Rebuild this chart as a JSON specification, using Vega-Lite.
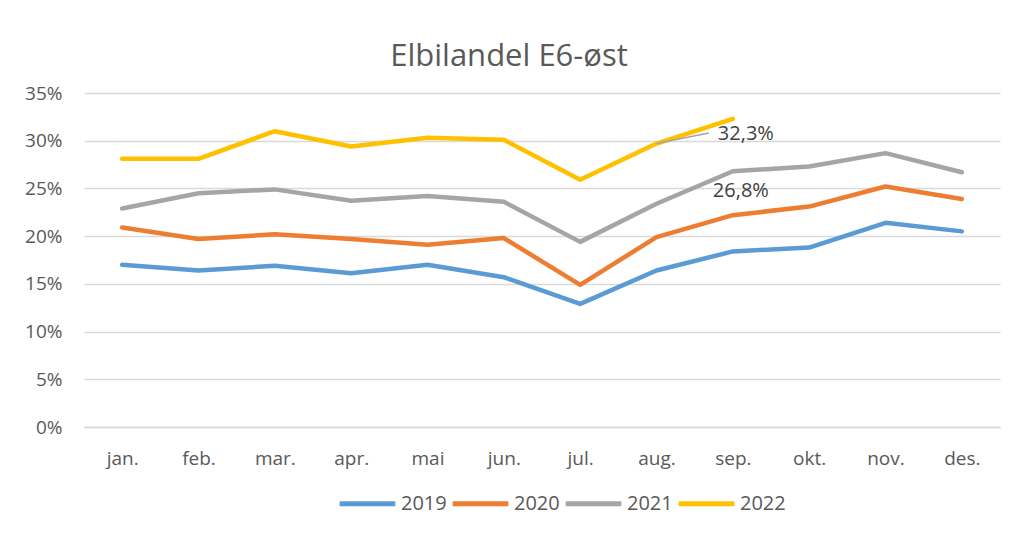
{
  "$schema": "https://vega.github.io/schema/vega-lite/v6.json",
  "width": 916,
  "height": 334,
  "autosize": {"type": "none"},
  "padding": {"left": 84, "top": 93, "right": 14, "bottom": 106},
  "background": "white",
  "title": {"text": "Elbilandel E6-øst", "fontSize": 31, "font": "Open Sans", "fontWeight": "normal", "color": "#595959", "dx": -33, "offset": 11},
  "config": {
    "view": {"stroke": null},
    "font": "Open Sans"
  },
  "datasets": {
    "series": [
      {"month": "jan.", "year": "2019", "value": 0.170},
      {"month": "feb.", "year": "2019", "value": 0.164},
      {"month": "mar.", "year": "2019", "value": 0.169},
      {"month": "apr.", "year": "2019", "value": 0.161},
      {"month": "mai", "year": "2019", "value": 0.170},
      {"month": "jun.", "year": "2019", "value": 0.157},
      {"month": "jul.", "year": "2019", "value": 0.129},
      {"month": "aug.", "year": "2019", "value": 0.164},
      {"month": "sep.", "year": "2019", "value": 0.184},
      {"month": "okt.", "year": "2019", "value": 0.188},
      {"month": "nov.", "year": "2019", "value": 0.214},
      {"month": "des.", "year": "2019", "value": 0.205},
      {"month": "jan.", "year": "2020", "value": 0.209},
      {"month": "feb.", "year": "2020", "value": 0.197},
      {"month": "mar.", "year": "2020", "value": 0.202},
      {"month": "apr.", "year": "2020", "value": 0.197},
      {"month": "mai", "year": "2020", "value": 0.191},
      {"month": "jun.", "year": "2020", "value": 0.198},
      {"month": "jul.", "year": "2020", "value": 0.149},
      {"month": "aug.", "year": "2020", "value": 0.199},
      {"month": "sep.", "year": "2020", "value": 0.222},
      {"month": "okt.", "year": "2020", "value": 0.231},
      {"month": "nov.", "year": "2020", "value": 0.252},
      {"month": "des.", "year": "2020", "value": 0.239},
      {"month": "jan.", "year": "2021", "value": 0.229},
      {"month": "feb.", "year": "2021", "value": 0.245},
      {"month": "mar.", "year": "2021", "value": 0.249},
      {"month": "apr.", "year": "2021", "value": 0.237},
      {"month": "mai", "year": "2021", "value": 0.242},
      {"month": "jun.", "year": "2021", "value": 0.236},
      {"month": "jul.", "year": "2021", "value": 0.194},
      {"month": "aug.", "year": "2021", "value": 0.234},
      {"month": "sep.", "year": "2021", "value": 0.268},
      {"month": "okt.", "year": "2021", "value": 0.273},
      {"month": "nov.", "year": "2021", "value": 0.287},
      {"month": "des.", "year": "2021", "value": 0.267},
      {"month": "jan.", "year": "2022", "value": 0.281},
      {"month": "feb.", "year": "2022", "value": 0.281},
      {"month": "mar.", "year": "2022", "value": 0.310},
      {"month": "apr.", "year": "2022", "value": 0.294},
      {"month": "mai", "year": "2022", "value": 0.303},
      {"month": "jun.", "year": "2022", "value": 0.301},
      {"month": "jul.", "year": "2022", "value": 0.259},
      {"month": "aug.", "year": "2022", "value": 0.297},
      {"month": "sep.", "year": "2022", "value": 0.323}
    ],
    "labels": [
      {"month": "sep.", "value": 0.323, "label": "32,3%", "series": "2022"},
      {"month": "sep.", "value": 0.268, "label": "26,8%", "series": "2021"}
    ],
    "leaders": [
      {"month": "aug.", "value": 0.297, "month2": "sep.", "value2": 0.308}
    ]
  },
  "layer": [
    {
      "data": {"name": "series"},
      "mark": {"type": "line", "strokeWidth": 4.5, "strokeCap": "round", "strokeJoin": "round"},
      "encoding": {
        "x": {
          "field": "month", "type": "ordinal",
          "sort": ["jan.", "feb.", "mar.", "apr.", "mai", "jun.", "jul.", "aug.", "sep.", "okt.", "nov.", "des."],
          "scale": {"type": "point", "padding": 0.5},
          "axis": {"title": null, "labelAngle": 0, "ticks": false, "domain": true, "domainColor": "#D9D9D9", "domainWidth": 1.5, "labelFontSize": 19, "labelColor": "#595959", "labelPadding": 22, "labelFont": "Open Sans"}
        },
        "y": {
          "field": "value", "type": "quantitative",
          "scale": {"domain": [0, 0.35], "nice": false},
          "axis": {"title": null, "format": ".0%", "values": [0, 0.05, 0.1, 0.15, 0.2, 0.25, 0.3, 0.35], "ticks": false, "domain": false, "grid": true, "gridColor": "#D9D9D9", "gridWidth": 1.5, "labelFontSize": 19, "labelColor": "#595959", "labelPadding": 22, "labelFont": "Open Sans"}
        },
        "color": {
          "field": "year", "type": "nominal",
          "scale": {"domain": ["2019", "2020", "2021", "2022"], "range": ["#5B9BD5", "#ED7D31", "#A5A5A5", "#FFC000"]},
          "legend": {
            "title": null, "orient": "none", "direction": "horizontal", "legendX": 253, "legendY": 380,
            "symbolType": "stroke", "symbolStrokeWidth": 5, "symbolSize": 3100, "symbolOpacity": 1,
            "labelFontSize": 20, "labelColor": "#595959", "labelOffset": 3, "columnPadding": -5, "labelFont": "Open Sans"
          }
        }
      }
    },
    {
      "data": {"name": "leaders"},
      "mark": {"type": "rule", "color": "#A5A5A5", "strokeWidth": 1.5, "x2Offset": -24},
      "encoding": {
        "x": {"field": "month", "type": "ordinal", "sort": ["jan.", "feb.", "mar.", "apr.", "mai", "jun.", "jul.", "aug.", "sep.", "okt.", "nov.", "des."]},
        "y": {"field": "value", "type": "quantitative"},
        "x2": {"field": "month2"},
        "y2": {"field": "value2"}
      }
    },
    {
      "data": {"name": "labels"},
      "transform": [{"filter": "datum.series === '2022'"}],
      "mark": {"type": "text", "align": "left", "baseline": "middle", "dx": -15, "dy": 15, "fontSize": 20, "color": "#404040", "font": "Open Sans"},
      "encoding": {
        "x": {"field": "month", "type": "ordinal", "sort": ["jan.", "feb.", "mar.", "apr.", "mai", "jun.", "jul.", "aug.", "sep.", "okt.", "nov.", "des."]},
        "y": {"field": "value", "type": "quantitative"},
        "text": {"field": "label"}
      }
    },
    {
      "data": {"name": "labels"},
      "transform": [{"filter": "datum.series === '2021'"}],
      "mark": {"type": "text", "align": "left", "baseline": "middle", "dx": -20, "dy": 20, "fontSize": 20, "color": "#404040", "font": "Open Sans"},
      "encoding": {
        "x": {"field": "month", "type": "ordinal", "sort": ["jan.", "feb.", "mar.", "apr.", "mai", "jun.", "jul.", "aug.", "sep.", "okt.", "nov.", "des."]},
        "y": {"field": "value", "type": "quantitative"},
        "text": {"field": "label"}
      }
    }
  ]
}
